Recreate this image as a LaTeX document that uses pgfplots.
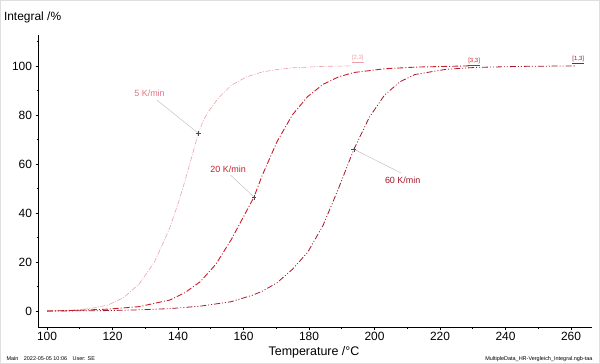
\documentclass[border=0pt]{standalone}
\usepackage{fontspec}
\setmainfont{Liberation Sans}
\usepackage{pgfplots}
\pgfplotsset{compat=1.18}
\definecolor{cA}{HTML}{EBA0AB}
\definecolor{cAt}{HTML}{E07584}
\definecolor{cB}{HTML}{C81E2A}
\definecolor{cC}{HTML}{A3172B}
\begin{document}
\begin{tikzpicture}
\useasboundingbox (0,0) rectangle (600bp,364bp);
\draw[gray!25, line width=0.6bp] (0.3bp,0.3bp) rectangle (599.7bp,363.7bp);
\begin{axis}[at={(38.5bp,37bp)}, anchor=south west, scale only axis,
  width=553.5bp, height=292bp,
  xmin=97.4, xmax=266.4, ymin=-6.5, ymax=112.6,
  axis x line*=bottom, axis y line*=left,
  axis line style={-, line width=0.8pt},
  xtick={100,120,...,260}, ytick={0,20,...,100},
  minor xtick={110,130,...,250}, minor ytick={10,30,...,110},
  tick align=outside, major tick length=3bp, minor tick length=2bp,
  tick style={black, line width=0.6pt},
  ticklabel style={font=\fontsize{12}{13}\selectfont},
  xticklabel style={yshift=1bp},
  /pgf/number format/assume math mode=true,
  clip=false]
% 5 K/min
\addplot[color=cA, line width=0.6pt, dash pattern=on 5pt off 1.5pt on 1pt off 1.5pt] coordinates {
(100,0) (104.7,0.2) (109.4,0.5) (114.0,1.2) (118.7,2.5) (123.4,5.5) (128.1,11) (132.8,20) (136.2,30) (137.5,34)
(140.3,45) (142.1,53) (144.0,62) (146.2,72.5) (147.8,78) (149.6,82) (152.4,87) (156.2,92) (160.9,95.5) (165.6,97.5) (170.2,98.5)
(174.9,99.2) (184.3,99.8) (192.7,100)};
% 20 K/min
\addplot[color=cB, line width=0.9pt, dash pattern=on 6pt off 2pt on 1pt off 2pt] coordinates {
(100,0) (109.4,0.3) (118.7,0.8) (128.1,1.8) (137.5,4.5) (142.1,7.5) (146.8,12) (151.5,19) (156.2,29) (159.0,36)
(163.2,46.5) (165.6,55) (170.2,69) (174.9,80) (179.6,87.5) (184.3,92.5) (189.0,95.5) (193.7,97.3) (203.0,98.8)
(212.4,99.5) (228.8,100)};
% 60 K/min
\addplot[color=cC, line width=0.8pt, dash pattern=on 6pt off 2pt on 1pt off 2pt on 1pt off 2pt] coordinates {
(100,0) (118.7,0.2) (128.1,0.5) (137.5,1) (146.8,2) (156.2,3.8) (162.8,6.5) (165.6,8) (170.2,11.5) (174.9,17)
(179.6,24) (184.3,35) (189.0,50) (193.7,66) (198.4,79) (203.0,88) (207.7,93.5) (212.4,96.5) (221.8,98.6)
(231.1,99.4) (245.2,99.8) (261.1,100)};
% markers
\addplot[only marks, mark=+, mark size=2.5pt, black!70, line width=0.4pt] coordinates {(146.2,72.5) (163.2,46.5) (193.7,66)};
% leader lines
\draw[gray!55, line width=0.4pt] (axis cs:133.6,86) -- (axis cs:146.2,72.5);
\draw[gray!55, line width=0.4pt] (axis cs:156.0,55.5) -- (axis cs:163.2,46.5);
\draw[gray!55, line width=0.4pt] (axis cs:193.7,66) -- (axis cs:208.1,56.3);
% labels
\node[text=cAt, font=\fontsize{9}{10}\selectfont] at (axis cs:131.3,89) {5 K/min};
\node[text=cB, font=\fontsize{9}{10}\selectfont] at (axis cs:155.3,57.8) {20 K/min};
\node[text=cC, font=\fontsize{9}{10}\selectfont] at (axis cs:208.6,53.5) {60 K/min};
\node[text=cA, font=\fontsize{6}{7}\selectfont] at (axis cs:194.9,102.9) {\underline{[2,3]}};
\node[text=cB, font=\fontsize{6}{7}\selectfont] at (axis cs:230.4,101.6) {\underline{[3,3]}};
\node[text=cC, font=\fontsize{6}{7}\selectfont] at (axis cs:262.2,102.4) {\underline{[1,3]}};
\end{axis}
\node[anchor=west, font=\fontsize{12}{13}\selectfont] at (0.5bp,347bp) {Integral /\%};
\node[font=\fontsize{12.5}{13}\selectfont] at (314bp,12bp) {Temperature /°C};
\node[anchor=west, font=\fontsize{5.5}{6}\selectfont] at (3bp,5bp) {Main\quad 2022-05-05 10:06\quad User: SE};
\node[anchor=east, font=\fontsize{5.5}{6}\selectfont] at (596bp,5bp) {MultipleData\_HR-Vergleich\_Integral.ngb-taa};
\end{tikzpicture}
\end{document}
